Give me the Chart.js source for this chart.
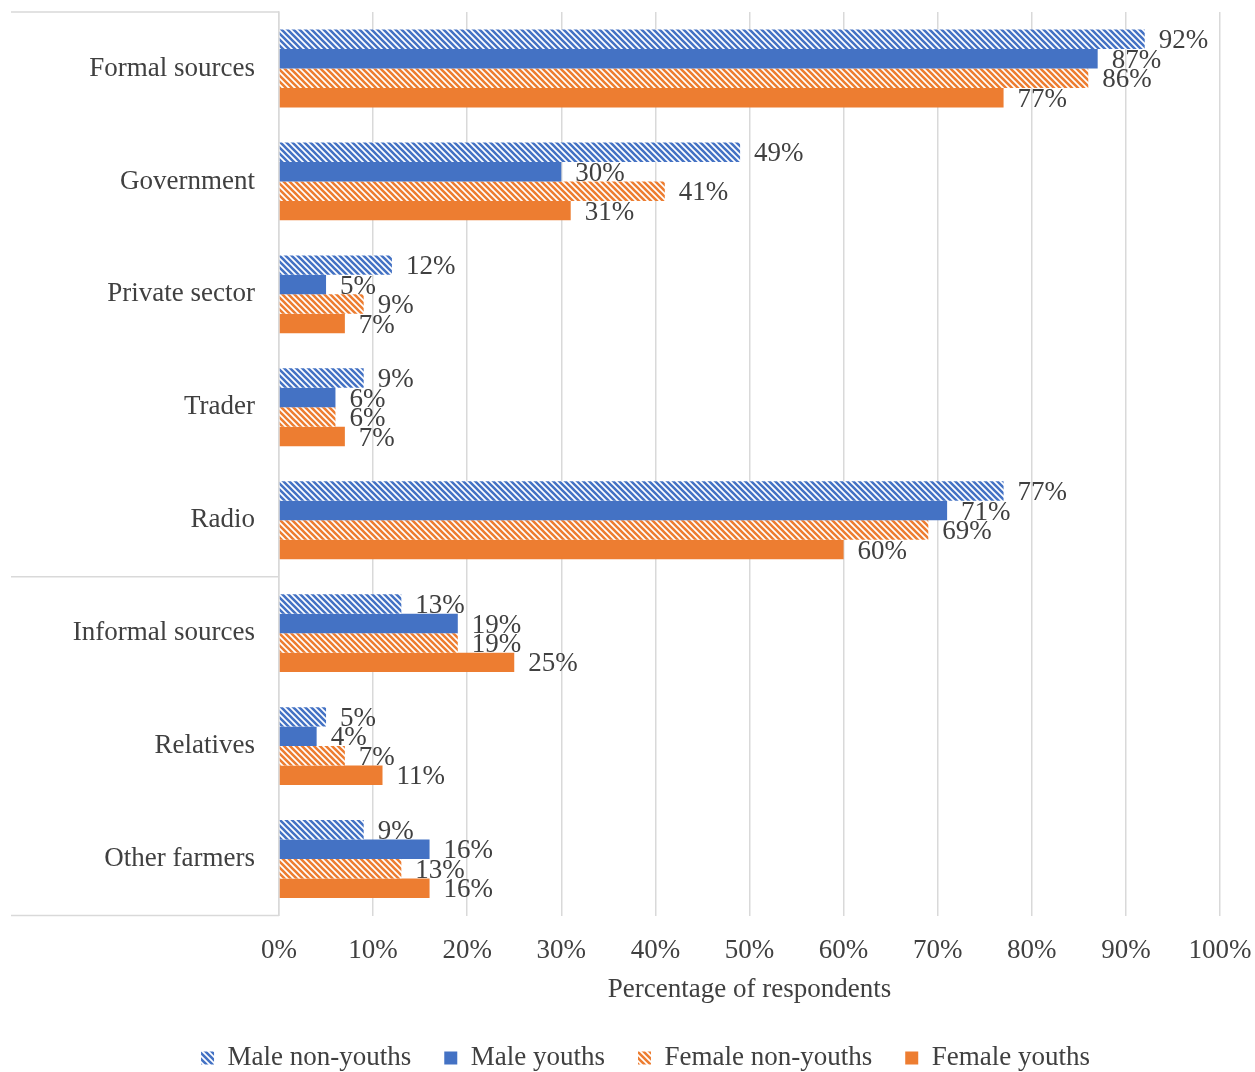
<!DOCTYPE html>
<html>
<head>
<meta charset="utf-8">
<script src="https://cdn.jsdelivr.net/npm/chart.js@4.4.1/dist/chart.umd.min.js"></script>
<style>
  html, body { margin: 0; padding: 0; background: #fff; }
  #wrap { width: 1255px; height: 1072px; }
</style>
</head>
<body>
<div id="wrap"><canvas id="myChart" width="1255" height="1072"></canvas></div>
<script>
//  Information sources by respondent group
const categories = ['Formal sources', 'Government', 'Private sector', 'Trader', 'Radio',
                    'Informal sources', 'Relatives', 'Other farmers'];
const male_non_youths   = [92, 49, 12, 9, 77, 13, 5, 9];
const male_youths       = [87, 30, 5, 6, 71, 19, 4, 16];
const female_non_youths = [86, 41, 9, 6, 69, 19, 7, 13];
const female_youths     = [77, 31, 7, 7, 60, 25, 11, 16];
const x_ticks = [0, 10, 20, 30, 40, 50, 60, 70, 80, 90, 100];

const BLUE = '#4472C4';
const ORANGE = '#ED7D31';
const TEXT = '#404040';
const LINE = '#d9d9d9';
const FONT = "'Liberation Serif', 'Times New Roman', serif";
const FS = 27;

//  Diagonal hatch fill, like the "wide downward diagonal" pattern
function hatch(color) {
    const c = document.createElement('canvas');
    c.width = 6;
    c.height = 6;
    const g = c.getContext('2d');
    g.fillStyle = '#fff';
    g.fillRect(0, 0, 6, 6);
    g.strokeStyle = color;
    g.lineWidth = 2.6;
    g.beginPath();
    g.moveTo(-1, -1); g.lineTo(7, 7);
    g.moveTo(-1, 5); g.lineTo(1, 7);
    g.moveTo(5, -1); g.lineTo(7, 1);
    g.stroke();
    return g.createPattern(c, 'repeat');
}

//  Value labels at the end of each bar
const bar_labels = {
    id: 'bar_labels',
    afterDatasetsDraw(chart) {
        const ctx = chart.ctx;
        ctx.save();
        ctx.font = FS + 'px ' + FONT;
        ctx.fillStyle = TEXT;
        ctx.textAlign = 'left';
        ctx.textBaseline = 'middle';
        chart.data.datasets.forEach((ds, i) => {
            chart.getDatasetMeta(i).data.forEach((bar, j) => {
                ctx.fillText(ds.data[j] + '%', bar.x + 14, bar.y + 2);
            });
        });
        ctx.restore();
    }
};

//  Lines framing the category labels (top, formal/informal split, bottom)
const group_lines = {
    id: 'group_lines',
    afterDraw(chart) {
        const ctx = chart.ctx;
        const y = chart.scales.y;
        const area = chart.chartArea;
        const split = (y.getPixelForTick(4) + y.getPixelForTick(5)) / 2;
        ctx.save();
        ctx.strokeStyle = LINE;
        ctx.lineWidth = 1.5;
        ctx.beginPath();
        [area.top, split, area.bottom].forEach(py => {
            ctx.moveTo(11, py);
            ctx.lineTo(area.left, py);
        });
        ctx.stroke();
        ctx.restore();
    }
};

function draw_graph() {
    const ctx = document.getElementById('myChart');
    new Chart(ctx, {
        type: 'bar',
        data: {
            labels: categories,
            datasets: [
                { label: 'Male non-youths', data: male_non_youths, backgroundColor: hatch(BLUE) },
                { label: 'Male youths', data: male_youths, backgroundColor: BLUE },
                { label: 'Female non-youths', data: female_non_youths, backgroundColor: hatch(ORANGE) },
                { label: 'Female youths', data: female_youths, backgroundColor: ORANGE }
            ]
        },
        options: {
            indexAxis: 'y',
            responsive: false,
            animation: false,
            devicePixelRatio: 1,
            categoryPercentage: 0.69,
            barPercentage: 1.0,
            layout: { padding: { top: 12, right: 35, left: 71, bottom: -9.5 } },
            scales: {
                x: {
                    min: 0,
                    max: 100,
                    afterBuildTicks(scale) {
                        scale.ticks = x_ticks.map(v => ({ value: v }));
                    },
                    afterFit(scale) {
                        scale.height = 96;
                        scale.paddingLeft = 0;
                        scale.paddingRight = 0;
                    },
                    ticks: {
                        callback: v => v + '%',
                        color: TEXT,
                        font: { family: FONT, size: FS },
                        padding: 19,
                        maxRotation: 0
                    },
                    grid: { color: LINE, lineWidth: 1.5, drawTicks: false },
                    border: { display: false },
                    title: {
                        display: true,
                        text: 'Percentage of respondents',
                        color: TEXT,
                        font: { family: FONT, size: FS },
                        padding: { top: 10, bottom: 5 }
                    }
                },
                y: {
                    afterFit(scale) {
                        scale.width = 279 - 71;
                        scale.paddingTop = 0;
                        scale.paddingBottom = 0;
                    },
                    ticks: {
                        color: TEXT,
                        font: { family: FONT, size: FS },
                        padding: 24
                    },
                    grid: { display: false, drawTicks: false },
                    border: { display: true, color: LINE, width: 1.5 }
                }
            },
            plugins: {
                legend: {
                    position: 'bottom',
                    labels: {
                        color: TEXT,
                        font: { family: FONT, size: FS },
                        boxWidth: 13,
                        boxHeight: 13,
                        padding: 33
                    }
                },
                tooltip: { enabled: false }
            }
        },
        plugins: [bar_labels, group_lines]
    });
}
draw_graph();
</script>
</body>
</html>
